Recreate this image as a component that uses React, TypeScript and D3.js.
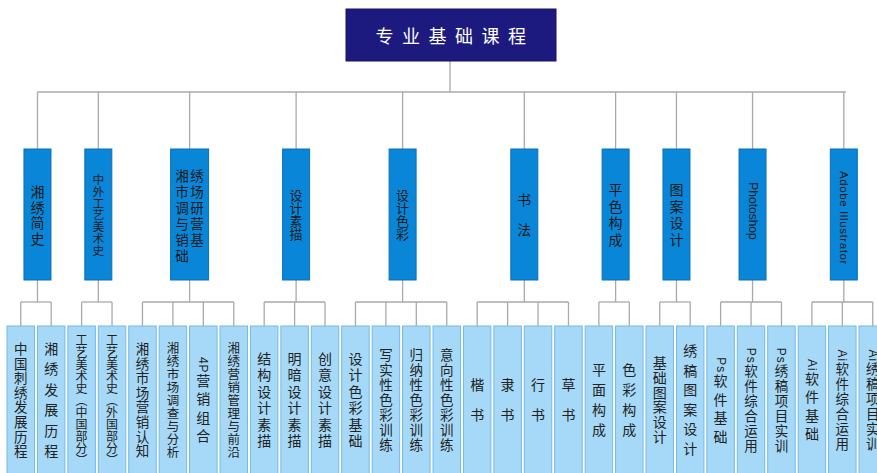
import React from 'react';
import * as d3 from 'd3';

// ---------- data ----------
const ROOT = '专业基础课程';
const CATEGORIES = [
  '湘绣简史',
  '中外工艺美术史',
  '湘绣市场调研与营销基础',
  '设计素描',
  '设计色彩',
  '书法',
  '平色构成',
  '图案设计',
  'Photoshop',
  'Adobe Illustrator',
];
const COURSES_HISTORY = ['中国刺绣发展历程', '湘绣发展历程'];
const COURSES_ART = ['工艺美术史（中国部分）', '工艺美术史（外国部分）'];
const COURSES_MARKET = ['湘绣市场营销认知', '湘绣市场调查与分析', '4P营销组合', '湘绣营销管理与前沿'];
const COURSES_SKETCH = ['结构设计素描', '明暗设计素描', '创意设计素描'];
const COURSES_COLOR = ['设计色彩基础', '写实性色彩训练', '归纳性色彩训练', '意向性色彩训练'];
const COURSES_CALLI = ['楷书', '隶书', '行书', '草书'];
const COURSES_COMPOSE = ['平面构成', '色彩构成'];
const COURSES_PATTERN = ['基础图案设计', '绣稿图案设计'];
const COURSES_PS = ['Ps软件基础', 'Ps软件综合运用', 'Ps绣稿项目实训'];
const COURSES_AI = ['Ai软件基础', 'Ai软件综合运用', 'Ai绣稿项目实训'];
const COURSES = [
  COURSES_HISTORY, COURSES_ART, COURSES_MARKET, COURSES_SKETCH, COURSES_COLOR,
  COURSES_CALLI, COURSES_COMPOSE, COURSES_PATTERN, COURSES_PS, COURSES_AI,
];

// ---------- layout / style ----------
const W = 877;
const H = 473;
const CJK = "'Noto Sans CJK SC', 'Noto Sans', sans-serif";
const LATIN = "'Liberation Sans', Arial, sans-serif";
const LINE = '#a9a9a9';

const ROOT_BOX = { x0: 346, x1: 556, y0: 9, y1: 61 };
const BAR1_Y = 92;
const L1_Y0 = 149, L1_Y1 = 280;
const BAR2_Y = 302;
const LEAF_Y0 = 326, LEAF_Y1 = 490;
const LEAF_W = 27.5;
const L1_W = 27;
const L1_W_WIDE = 38;

const leafStepOverride: Record<string, number> = {
  '湘绣发展历程': 20.4,
  '绣稿图案设计': 19.6,
  '基础图案设计': 14.8,
};
const l1StepOverride: Record<string, number> = {
  '设计素描': 13,
  '设计色彩': 13,
  '湘绣简史': 15.7,
};

type Tok = { t: string; latin: boolean };
function tokenize(s: string): Tok[] {
  const out: Tok[] = [];
  let buf = '';
  for (const ch of s) {
    if (/[A-Za-z0-9 ]/.test(ch)) buf += ch;
    else {
      if (buf) { out.push({ t: buf, latin: true }); buf = ''; }
      out.push({ t: ch, latin: false });
    }
  }
  if (buf) out.push({ t: buf, latin: true });
  return out;
}

function leafStep(label: string, n: number) {
  if (leafStepOverride[label] != null) return leafStepOverride[label];
  const m: Record<number, number> = { 1: 0, 2: 30, 3: 22, 4: 20, 5: 18.5, 6: 16.4, 7: 15, 8: 14.6, 9: 13, 10: 12.5, 11: 12 };
  return m[n] ?? 12;
}
function leafFont(n: number) {
  if (n >= 11) return 12;
  if (n >= 9) return 12.5;
  if (n >= 7) return 13.5;
  return 14;
}

// One <text> per label, written top-to-bottom; Latin runs turn sideways as in the reference.
function VerticalText({ cx, cy, label, step, size, latinSize, latinSpacing = 1, color }:
  { cx: number; cy: number; label: string; step: number; size: number; latinSize: number; latinSpacing?: number; color: string }) {
  const toks = tokenize(label);
  const n = toks.length;
  const ls = n > 1 ? Math.max(0, step - size) : 0;
  return (
    <text x={cx} y={cy + ls / 2} textAnchor="middle" style={{ writingMode: 'vertical-rl' }}
      fontFamily={CJK} fontSize={size} letterSpacing={ls} fill={color}>
      {toks.map((tk, k) =>
        tk.latin ? (
          <tspan key={k} fontFamily={LATIN} fontSize={latinSize} letterSpacing={latinSpacing}>{tk.t}</tspan>
        ) : (
          <tspan key={k}>{tk.t}</tspan>
        )
      )}
    </text>
  );
}

export default function App() {
  const allLeaves: { label: string; g: number }[] = [];
  COURSES.forEach((arr, g) => arr.forEach((label) => allLeaves.push({ label, g })));
  const x = d3.scaleLinear().domain([0, allLeaves.length - 1]).range([7 + LEAF_W / 2, 859 + LEAF_W / 2]);

  const groupInfo = CATEGORIES.map((name, g) => {
    const idx = allLeaves.map((d, i) => (d.g === g ? i : -1)).filter((i) => i >= 0);
    const xs = idx.map((i) => x(i));
    const cx = d3.mean(xs) as number;
    return { name, g, xs, cx: cx + 1.5, min: d3.min(xs) as number, max: d3.max(xs) as number };
  });

  const rootCx = (ROOT_BOX.x0 + ROOT_BOX.x1) / 2;
  const barX0 = groupInfo[0].cx;
  const barX1 = groupInfo[groupInfo.length - 1].cx + 2;

  return (
    <svg width={W} height={H} style={{ position: 'absolute', left: 0, top: 0, background: '#fff' }}>
      <rect x={0} y={0} width={W} height={H} fill="#fff" />
      {/* connectors */}
      <g stroke={LINE} strokeWidth={1.3} fill="none">
        <line x1={rootCx - 1} x2={rootCx - 1} y1={ROOT_BOX.y1} y2={BAR1_Y} />
        <line x1={barX0} x2={barX1} y1={BAR1_Y} y2={BAR1_Y} />
        {groupInfo.map((gi) => (
          <g key={gi.g}>
            <line x1={gi.cx} x2={gi.cx} y1={BAR1_Y} y2={L1_Y0} />
            <line x1={gi.cx} x2={gi.cx} y1={L1_Y1} y2={BAR2_Y} />
            <line x1={gi.min} x2={gi.max} y1={BAR2_Y} y2={BAR2_Y} />
            {gi.xs.map((lx, k) => (
              <line key={k} x1={lx} x2={lx} y1={BAR2_Y} y2={LEAF_Y0} />
            ))}
          </g>
        ))}
      </g>

      {/* root */}
      <rect x={ROOT_BOX.x0} y={ROOT_BOX.y0} width={ROOT_BOX.x1 - ROOT_BOX.x0} height={ROOT_BOX.y1 - ROOT_BOX.y0}
        fill="#1c1a7e" stroke="#15135f" strokeWidth={1} />
      <text x={rootCx + 4} y={(ROOT_BOX.y0 + ROOT_BOX.y1) / 2} textAnchor="middle" dominantBaseline="central"
        fontFamily={CJK} fontSize={18} letterSpacing={8.5} fill="#fff">{ROOT}</text>

      {/* level 1 */}
      {groupInfo.map((gi) => {
        const name = gi.name;
        const isLatin = /[A-Za-z]/.test(name);
        const wide = name.length > 8 && !isLatin;
        const w = wide ? L1_W_WIDE : L1_W;
        const cy = 215;
        let content: React.ReactNode;
        if (wide) {
          const rows: string[] = [];
          for (let i = 0; i < name.length; i += 2) rows.push(name.slice(i, i + 2));
          const step = 16;
          const y0 = cy - ((rows.length - 1) / 2) * step;
          content = (
            <text fontFamily={CJK} fontSize={13.5} fill="#1a1a1a" dominantBaseline="central">
              {rows.map((r, ri) => (
                <tspan key={ri} x={gi.cx - 14.25} y={y0 + ri * step} letterSpacing={1.5}>{r}</tspan>
              ))}
            </text>
          );
        } else if (isLatin) {
          const long = name.length > 10;
          content = (
            <VerticalText cx={gi.cx} cy={long ? 218 : 211} label={name} step={0} size={14}
              latinSize={long ? 11.5 : 12} latinSpacing={long ? 0.6 : 0} color="#1a1a1a" />
          );
        } else {
          const n = name.length;
          const step = l1StepOverride[name] ?? (n === 2 ? 30 : n >= 7 ? 11.8 : 16.7);
          const size = n >= 7 ? 11.8 : step < 14 ? 13 : 14;
          content = <VerticalText cx={gi.cx} cy={cy} label={name} step={step} size={size} latinSize={12} color="#1a1a1a" />;
        }
        return (
          <g key={gi.g}>
            <rect x={gi.cx - w / 2} y={L1_Y0} width={w} height={L1_Y1 - L1_Y0} fill="#0a86d8" stroke="#0b6fb6" strokeWidth={1} />
            {content}
          </g>
        );
      })}

      {/* leaves */}
      {allLeaves.map((d, i) => {
        const cx = x(i);
        const n = tokenize(d.label).length;
        return (
          <g key={i}>
            <rect x={cx - LEAF_W / 2} y={LEAF_Y0} width={LEAF_W} height={LEAF_Y1 - LEAF_Y0}
              fill="#a6d9f7" stroke="#74b9e6" strokeWidth={1} />
            <VerticalText cx={cx} cy={400} label={d.label} step={leafStep(d.label, n)} size={leafFont(n)}
              latinSize={12} color="#222" />
          </g>
        );
      })}
    </svg>
  );
}
